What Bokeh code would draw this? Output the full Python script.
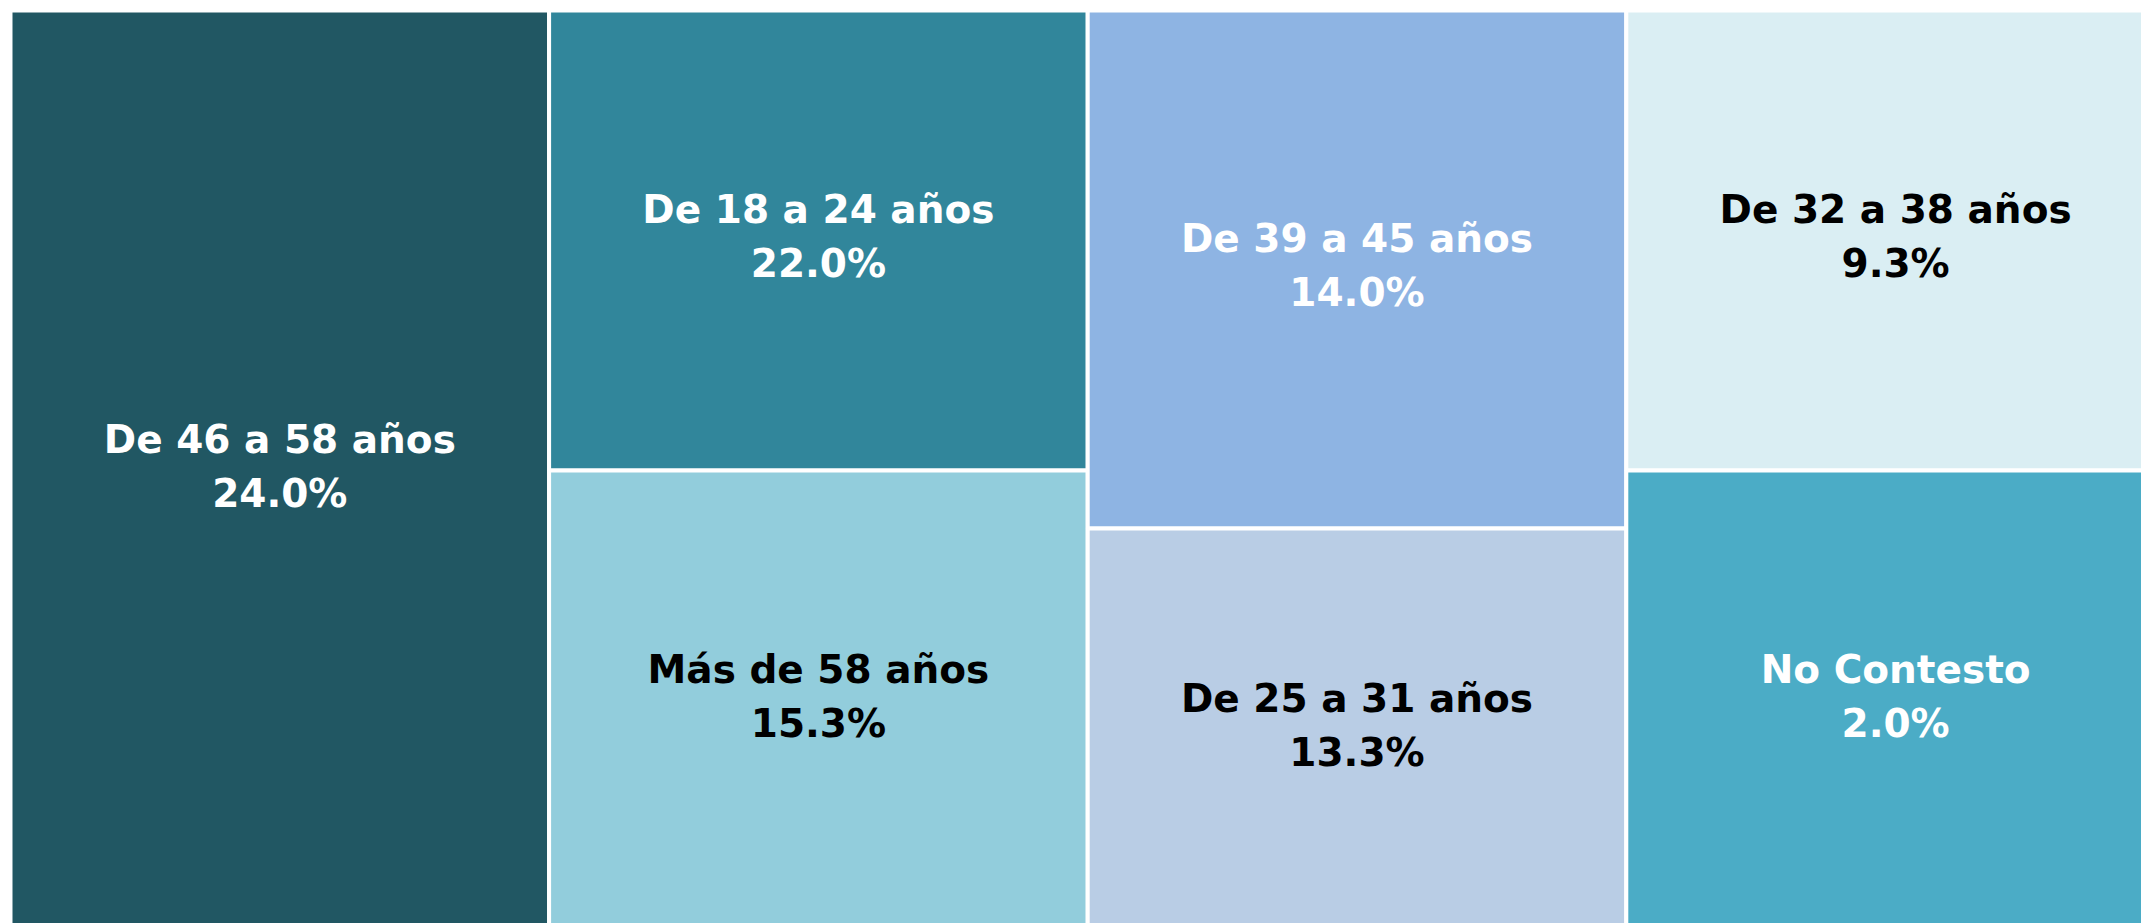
from bokeh.plotting import figure
from bokeh.models import ColumnDataSource, Range1d
from bokeh.core.properties import value
from bokeh.embed import file_html
from bokeh.resources import INLINE

# ---- data ----
categories = ["De 46 a 58 años", "De 18 a 24 años", "Más de 58 años",
              "De 39 a 45 años", "De 25 a 31 años", "De 32 a 38 años", "No Contesto"]
percentages = [24.0, 22.0, 15.3, 14.0, 13.3, 9.3, 2.0]
colors = ["#215763", "#31869B", "#92CDDC", "#8EB4E3", "#B9CDE5", "#DAEEF3", "#4BACC6"]
text_colors = ["white", "white", "black", "white", "black", "black", "white"]

# ---- layout (column index, position in column) ----
cell_col = [0, 1, 1, 2, 2, 3, 3]
cell_pos = ["full", "top", "bottom", "top", "bottom", "top", "bottom"]
col_split = [None, 0.5, 0.437, 0.5]   # y of the split inside each column

left, right, bottom, top = [], [], [], []
for c, pos in zip(cell_col, cell_pos):
    left.append(c)
    right.append(c + 1)
    if pos == "full":
        bottom.append(0.0); top.append(1.0)
    elif pos == "top":
        bottom.append(col_split[c]); top.append(1.0)
    else:
        bottom.append(0.0); top.append(col_split[c])

cx = [(l + r) / 2 for l, r in zip(left, right)]
cy = [(b + t) / 2 + 0.004 for b, t in zip(bottom, top)]
pct_labels = [f"{v:.1f}%" for v in percentages]

src = ColumnDataSource(dict(left=left, right=right, bottom=bottom, top=top,
                            color=colors, tcolor=text_colors, cx=cx, cy=cy,
                            name=categories, pct=pct_labels))

W, H = 2141, 923
colw = 538.6
hpx = 920.0
x0 = -10 / colw
y1 = 1 + 10 / hpx
p = figure(width=W, height=H, output_backend="svg", toolbar_location=None,
           x_range=Range1d(x0, x0 + W / colw), y_range=Range1d(y1 - H / hpx, y1),
           min_border=0, min_border_left=0, min_border_right=0,
           min_border_top=0, min_border_bottom=0)
p.axis.visible = False
p.grid.visible = False
p.outline_line_color = None
p.background_fill_color = "white"
p.border_fill_color = "white"

p.quad(left="left", right="right", bottom="bottom", top="top", source=src,
       fill_color="color", line_color="white", line_width=4)

common = dict(source=src, text_align="center", text_baseline="middle",
              text_font=value("DejaVu Sans"), text_font_style="bold",
              text_font_size="39px", text_color="tcolor")
p.text(x="cx", y="cy", text="name", y_offset=-27, **common)
p.text(x="cx", y="cy", text="pct", y_offset=27, **common)

open("out.html", "w").write(file_html(p, INLINE))
